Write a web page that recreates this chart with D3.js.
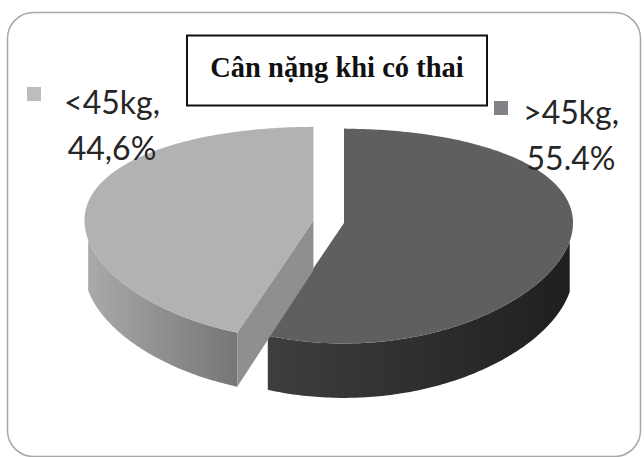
<!DOCTYPE html>
<html>
<head>
<meta charset="utf-8">
<script src="https://cdn.jsdelivr.net/npm/d3@7"></script>
<style>
  html, body { margin: 0; padding: 0; background: #fff; }
  svg { display: block; }
</style>
</head>
<body>
<svg id="chart" width="644" height="457"></svg>
<script>
// Weight during pregnancy: share of women by weight group
const title = "Cân nặng khi có thai";
const categories = [">45kg", "<45kg"];
const values = [55.4, 44.6];
const valueLabels = ["55.4%", "44,6%"];
const exploded = [false, true];

// colours: top face, side wall (left -> right), cut face, legend swatch
const topColors = ["#5f5f5f", "#b2b2b2"];
const wallColors = [["#3e3e3e", "#1f1f1f"], ["#a9a9a9", "#767676"]];
const cutColors = ["#444444", "#8f8f8f"];
const swatchColors = ["#808285", "#bbbdbf"];

const svg = d3.select("#chart");

// outer frame
svg.append("rect")
  .attr("x", 7.5).attr("y", 12.5)
  .attr("width", 633).attr("height", 444)
  .attr("rx", 26).attr("ry", 26)
  .attr("fill", "#fff")
  .attr("stroke", "#a8a8a8").attr("stroke-width", 1.5);

// ---- 3D pie geometry ----
const cx = 344, cy = 223;          // projected pie centre
const R = 229;                      // radius
const phi = 0.48;                   // viewing elevation
const dist = 1662;                  // camera distance (perspective)
const h = 57;                       // thickness
const explode = 31;
const sinP = Math.sin(phi), cosP = Math.cos(phi);
const camZ = dist * cosP;

// perspective in depth, horizontal positions kept affine
function project(x, y, z) {
  const yc = y * cosP - z * sinP;
  const zc = y * sinP + z * cosP;
  const s = dist / (dist - zc);
  return [cx + x, cy - yc * s];
}

const pie = d3.pie().sort(null).value(d => d)
  .startAngle(0).endAngle(2 * Math.PI);
const arcs = pie(values);

const defs = svg.append("defs");
const line = d3.line();
const gPie = svg.append("g");

arcs.forEach((a, i) => {
  const mid = (a.startAngle + a.endAngle) / 2;
  const off = exploded[i] ? explode : 0;
  const ox = off * Math.sin(mid), oz = -off * Math.cos(mid);
  const rim = (t, y) => project(ox + R * Math.sin(t), y, oz - R * Math.cos(t));
  // outer wall faces the camera where its normal points toward it
  const facing = t => {
    const px = ox + R * Math.sin(t), pz = oz - R * Math.cos(t);
    return Math.sin(t) * (0 - px) + (-Math.cos(t)) * (camZ - pz) > 0;
  };
  const n = 240;
  const ts = d3.range(n + 1).map(k => a.startAngle + (a.endAngle - a.startAngle) * k / n);
  const topArc = ts.map(t => rim(t, 0));
  const vis = ts.filter(facing);
  const wallTop = vis.map(t => rim(t, 0));
  const wallBot = vis.map(t => rim(t, -h));
  const apexTop = project(ox, 0, oz);
  const apexBot = project(ox, -h, oz);

  const g = gPie.append("g").attr("class", "slice");

  // side wall with horizontal shading
  if (vis.length > 1) {
    const xs = wallTop.map(p => p[0]);
    const gid = "wall" + i;
    const grad = defs.append("linearGradient").attr("id", gid)
      .attr("gradientUnits", "userSpaceOnUse")
      .attr("x1", d3.min(xs)).attr("x2", d3.max(xs)).attr("y1", 0).attr("y2", 0);
    grad.append("stop").attr("offset", 0).attr("stop-color", wallColors[i][0]);
    grad.append("stop").attr("offset", 1).attr("stop-color", wallColors[i][1]);
    g.append("path")
      .attr("d", line(wallTop.concat(wallBot.slice().reverse())) + "Z")
      .attr("fill", `url(#${gid})`);
  }

  // radial faces that turn toward the viewer
  if (exploded[i]) {
    const t = a.startAngle;
    g.append("path").attr("d", line([apexTop, rim(t, 0), rim(t, -h), apexBot]) + "Z")
      .attr("fill", cutColors[i]);
  } else {
    // edge-on start face shows as a thin dark seam
    g.append("path").attr("d", line([rim(a.startAngle, 0), apexTop]))
      .attr("stroke", "#2a2a2a").attr("stroke-width", 2).attr("fill", "none")
      .attr("transform", "translate(1,0)");
  }

  // top face
  g.append("path")
    .attr("d", line([apexTop].concat(topArc)) + "Z")
    .attr("fill", topColors[i]);
});

// ---- data labels with swatches ----
const labelFont = "Lato, 'Open Sans', sans-serif";
const labelPos = [
  { sx: 494, sy: 101, tx: 571, ty: 124 },
  { sx: 27, sy: 87, tx: 112, ty: 114 }
];
categories.forEach((c, i) => {
  const p = labelPos[i];
  svg.append("rect").attr("x", p.sx).attr("y", p.sy)
    .attr("width", 14).attr("height", 14).attr("fill", swatchColors[i]);
  const t = svg.append("text")
    .attr("x", p.tx).attr("y", p.ty)
    .attr("text-anchor", "middle")
    .attr("font-family", labelFont)
    .attr("font-size", 32)
    .attr("fill", "#262626");
  t.append("tspan").attr("x", p.tx).text(c + ",");
  t.append("tspan").attr("x", p.tx).attr("dy", 46).text(valueLabels[i]);
});

// ---- title box ----
svg.append("rect")
  .attr("x", 187).attr("y", 35.5)
  .attr("width", 300).attr("height", 70)
  .attr("fill", "#fff").attr("stroke", "#111").attr("stroke-width", 2);
svg.append("text")
  .attr("x", 337).attr("y", 77)
  .attr("text-anchor", "middle")
  .attr("font-family", "'Liberation Serif', 'Times New Roman', serif")
  .attr("font-weight", "bold")
  .attr("font-size", 28.5)
  .attr("fill", "#111")
  .text(title);
</script>
</body>
</html>
